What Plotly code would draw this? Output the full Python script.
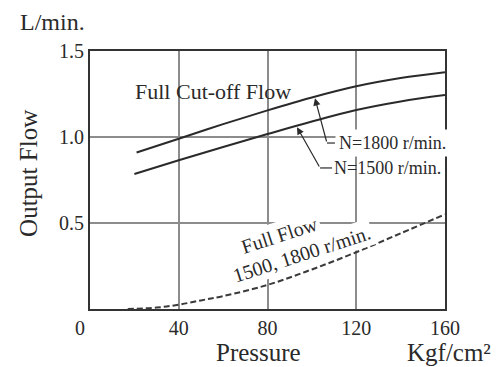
import plotly.graph_objects as go

# Data
pressure_1800 = [21, 40, 60, 80, 100, 120, 140, 160]
flow_1800 = [0.91, 0.99, 1.075, 1.155, 1.23, 1.295, 1.343, 1.377]

pressure_1500 = [20, 40, 60, 80, 100, 120, 140, 160]
flow_1500 = [0.785, 0.865, 0.942, 1.017, 1.09, 1.157, 1.207, 1.244]

pressure_full = [17, 30, 40, 50, 60, 80, 100, 120, 140, 160]
flow_full = [0.0, 0.008, 0.025, 0.05, 0.075, 0.14, 0.23, 0.33, 0.44, 0.55]

x_ticks = [0, 40, 80, 120, 160]
x_tick_text = ["0\u2003", "40", "80", "120", "160"]
y_ticks = [0.5, 1.0, 1.5]
y_tick_text = ["0.5", "1.0", "1.5"]

FONT = "Liberation Serif"
INK = "#2a2a2a"
GRID = "#8c8c8c"

fig = go.Figure()
fig.add_trace(go.Scatter(x=pressure_1800, y=flow_1800, mode="lines",
                         line=dict(color=INK, width=2, shape="spline"), showlegend=False))
fig.add_trace(go.Scatter(x=pressure_1500, y=flow_1500, mode="lines",
                         line=dict(color=INK, width=2, shape="spline"), showlegend=False))
fig.add_trace(go.Scatter(x=pressure_full, y=flow_full, mode="lines",
                         line=dict(color="#3a3a3a", width=2, shape="spline", dash="6px,3px"),
                         showlegend=False))


def paper_text(text, x, y, size, angle=0):
    return dict(text=text, x=x, y=y, xref="paper", yref="paper", showarrow=False,
                xanchor="center", yanchor="middle", textangle=angle,
                font=dict(size=size, color=INK, family=FONT))


annotations = [
    paper_text("L/min.", -0.107, 1.112, 24),
    paper_text("Output Flow", -0.175, 0.527, 25, -90),
    paper_text("Pressure", 0.476, -0.167, 25),
    paper_text("Kgf/cm²", 1.01, -0.167, 25),
    dict(text="Full Cut-off Flow", x=55.4, y=1.262, xref="x", yref="y", showarrow=False,
         font=dict(size=22, color=INK, family=FONT)),
    dict(text="N=1800 r/min.", x=110.4, y=0.965, xref="x", yref="y", showarrow=False,
         xanchor="left", yanchor="middle", bgcolor="white", borderpad=3,
         font=dict(size=18, color=INK, family=FONT)),
    dict(text="N=1500 r/min.", x=109.1, y=0.82, xref="x", yref="y", showarrow=False,
         xanchor="left", yanchor="middle", font=dict(size=18, color=INK, family=FONT)),
    dict(text="Full Flow", x=85.6, y=0.43, xref="x", yref="y", showarrow=False,
         textangle=-18, bgcolor="white", borderpad=2,
         font=dict(size=20, color=INK, family=FONT)),
    dict(text="1500, 1800 r/min.", x=95.5, y=0.32, xref="x", yref="y", showarrow=False,
         textangle=-18, bgcolor="white", borderpad=2,
         font=dict(size=20, color=INK, family=FONT)),
    # leader arrows
    dict(text="", x=101.4, y=1.225, ax=106.8, ay=0.965, xref="x", yref="y",
         axref="x", ayref="y", showarrow=True, arrowhead=2, arrowsize=1.2,
         arrowwidth=1.2, arrowcolor=INK),
    dict(text="", x=93.3, y=1.057, ax=103.7, ay=0.82, xref="x", yref="y",
         axref="x", ayref="y", showarrow=True, arrowhead=2, arrowsize=1.2,
         arrowwidth=1.2, arrowcolor=INK),
]

shapes = [
    dict(type="line", x0=106.8, y0=0.965, x1=110.4, y1=0.965, xref="x", yref="y",
         line=dict(color=INK, width=1.2)),
    dict(type="line", x0=103.7, y0=0.82, x1=109.1, y1=0.82, xref="x", yref="y",
         line=dict(color=INK, width=1.2)),
]

fig.update_layout(
    width=500, height=367,
    margin=dict(l=90, r=55, t=51, b=58),
    paper_bgcolor="white", plot_bgcolor="white",
    font=dict(family=FONT, color=INK),
    annotations=annotations, shapes=shapes,
    showlegend=False,
)
fig.update_xaxes(range=[0, 160], tickvals=x_ticks, ticktext=x_tick_text,
                 showgrid=True, gridcolor=GRID, gridwidth=1.5,
                 showline=True, linecolor="#333333", linewidth=2, mirror=True,
                 zeroline=False, ticks="", tickfont=dict(size=20, family=FONT, color=INK))
fig.update_yaxes(range=[0, 1.5], tickvals=y_ticks, ticktext=y_tick_text,
                 showgrid=True, gridcolor=GRID, gridwidth=1.5,
                 showline=True, linecolor="#333333", linewidth=2, mirror=True,
                 zeroline=False, ticks="", tickfont=dict(size=20, family=FONT, color=INK))

fig.write_html("out.html", config={"displayModeBar": False},
               post_script="document.body.style.margin='0';")
